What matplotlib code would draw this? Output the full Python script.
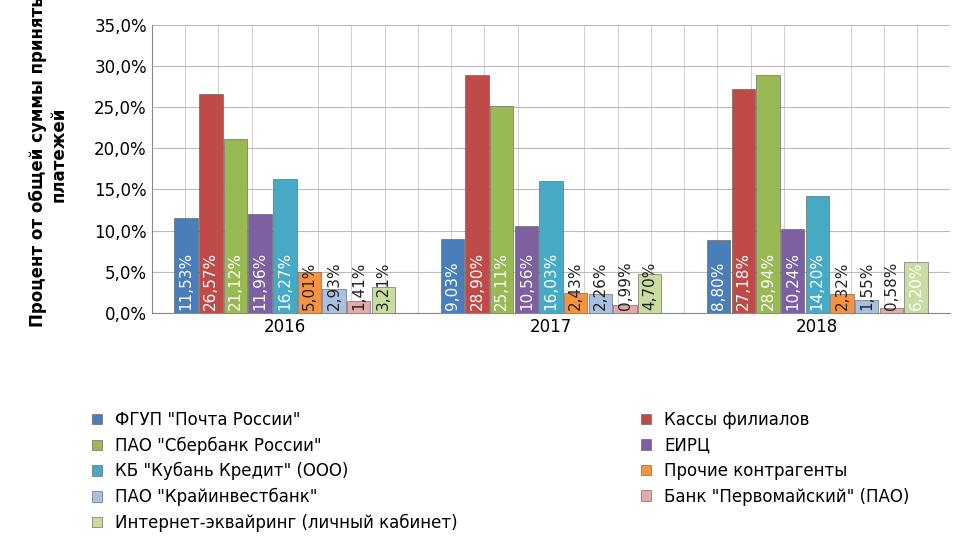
import matplotlib
matplotlib.use("Agg")
import matplotlib.pyplot as plt
import numpy as np

years = ["2016", "2017", "2018"]
series = ['ФГУП "Почта России"', 'Кассы филиалов', 'ПАО "Сбербанк России"', 'ЕИРЦ',
          'КБ "Кубань Кредит" (ООО)', 'Прочие контрагенты', 'ПАО "Крайинвестбанк"',
          'Банк "Первомайский" (ПАО)', 'Интернет-эквайринг (личный кабинет)']
values = [
    [11.53, 9.03, 8.80],
    [26.57, 28.90, 27.18],
    [21.12, 25.11, 28.94],
    [11.96, 10.56, 10.24],
    [16.27, 16.03, 14.20],
    [5.01, 2.43, 2.32],
    [2.93, 2.26, 1.55],
    [1.41, 0.99, 0.58],
    [3.21, 4.70, 6.20],
]
colors = ["#4A7EBB", "#BE4B48", "#98B954", "#7D60A0", "#46AAC5", "#F69240",
          "#A9C0E0", "#E2AAA9", "#C9DDA3"]

fig = plt.figure(figsize=(9.6, 5.5), dpi=100)
ax = fig.add_axes([0.158, 0.431, 0.832, 0.524])
x = np.arange(len(years))
w = 0.0926
handles = []
for i, (name, vals) in enumerate(zip(series, values)):
    pos = x + (i - 4) * w
    h = ax.bar(pos, vals, w * 0.95, color=colors[i], edgecolor="#555555", linewidth=0.4,
               label=name, zorder=3)
    handles.append(h)
    for p, v in zip(pos, vals):
        ax.text(p, 0.3, f"{v:.2f}%".replace(".", ","), rotation=90, ha="center",
                va="bottom", color="white" if v > 6 else "#222222", fontsize=11, zorder=4)
ax.set_xlim(-0.5, 2.5)
ax.set_ylim(0, 35)
ax.set_yticks(np.arange(0, 36, 5))
ax.set_yticklabels([f"{t:.1f}%".replace(".", ",") for t in np.arange(0, 36, 5)], fontsize=12)
ax.set_xticks(x)
ax.set_xticklabels(years, fontsize=12)
ax.set_xticks(np.arange(-0.5, 2.51, 0.125), minor=True)
ax.grid(axis="y", color="#BBBBBB", zorder=0)
ax.grid(axis="x", which="minor", color="#D0D0D0", linewidth=0.7, zorder=0)
ax.tick_params(axis="x", which="both", length=0)
ax.tick_params(axis="y", length=0)
for s in ["top", "right"]:
    ax.spines[s].set_visible(False)
ax.spines["left"].set_color("#888888")
ax.spines["bottom"].set_color("#888888")
ax.set_ylabel("Процент от общей суммы принятых\nплатежей", fontsize=12, fontweight="bold")
ax.yaxis.set_label_coords(-0.105, 0.55)
order = [0, 2, 4, 6, 8, 1, 3, 5, 7]
fig.legend([handles[k] for k in order], [series[k] for k in order],
           loc="upper left", bbox_to_anchor=(0.08, 0.28), ncol=2, frameon=False,
           fontsize=12, handlelength=0.6, handleheight=0.6, columnspacing=11,
           labelspacing=0.45)
fig.savefig("out.png", dpi=100)
